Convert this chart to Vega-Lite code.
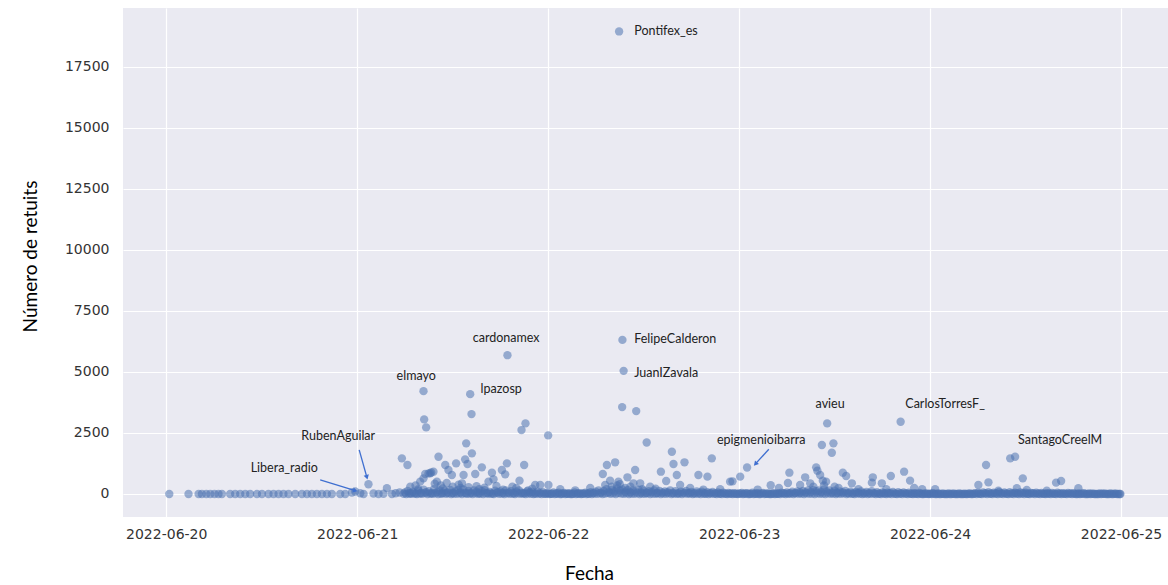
{
"$schema": "https://vega.github.io/schema/vega-lite/v6.json",
"width": 1045, "height": 509,
"autosize": {"type": "none"},
"padding": {"left": 123, "top": 8, "right": 0, "bottom": 68},
"background": "white",
"config": {
 "view": {"fill": "#EAEAF2", "stroke": null},
 "axis": {"domain": false, "ticks": false, "gridColor": "#FFFFFF", "gridWidth": 1.2, "labelFont": "DejaVu Sans", "labelFontSize": 14, "labelColor": "#333333", "titleFont": "Lato", "titleFontSize": 19, "titleFontWeight": "normal", "titleColor": "#000000"}
},
"datasets": {
 "pts": [
  {"t":"2022-06-20T00:23","r":0},{"t":"2022-06-20T02:48","r":0},{"t":"2022-06-20T04:04","r":0},{"t":"2022-06-20T04:29","r":0},{"t":"2022-06-20T05:02","r":0},{"t":"2022-06-20T05:32","r":0},{"t":"2022-06-20T06:04","r":0},{"t":"2022-06-20T06:34","r":0},{"t":"2022-06-20T07:00","r":0},{"t":"2022-06-20T08:02","r":0},{"t":"2022-06-20T08:40","r":0},{"t":"2022-06-20T09:18","r":0},{"t":"2022-06-20T09:56","r":0},{"t":"2022-06-20T10:33","r":0},{"t":"2022-06-20T11:24","r":0},{"t":"2022-06-20T12:02","r":0},{"t":"2022-06-20T12:51","r":0},{"t":"2022-06-20T13:29","r":0},{"t":"2022-06-20T14:07","r":0},{"t":"2022-06-20T14:44","r":0},{"t":"2022-06-20T15:22","r":0},{"t":"2022-06-20T16:13","r":0},{"t":"2022-06-20T17:03","r":0},{"t":"2022-06-20T17:41","r":0},{"t":"2022-06-20T18:18","r":0},{"t":"2022-06-20T18:56","r":0},{"t":"2022-06-20T19:34","r":0},{"t":"2022-06-20T20:12","r":0},{"t":"2022-06-20T20:49","r":0},{"t":"2022-06-20T21:52","r":0},{"t":"2022-06-20T22:30","r":0},{"t":"2022-06-20T23:20","r":60},{"t":"2022-06-20T23:45","r":100},
  {"t":"2022-06-21T00:23","r":30},{"t":"2022-06-21T00:48","r":0},{"t":"2022-06-21T01:25","r":400},{"t":"2022-06-21T02:03","r":20},{"t":"2022-06-21T02:41","r":0},{"t":"2022-06-21T03:18","r":10},{"t":"2022-06-21T03:44","r":240},{"t":"2022-06-21T04:22","r":0},{"t":"2022-06-21T04:50","r":30},{"t":"2022-06-21T05:20","r":60},
  {"t":"2022-06-21T05:37","r":1459},{"t":"2022-06-21T06:19","r":1186},{"t":"2022-06-21T10:13","r":1526},{"t":"2022-06-21T13:42","r":2072},{"t":"2022-06-21T14:25","r":1663},{"t":"2022-06-21T11:04","r":1186},{"t":"2022-06-21T12:26","r":1254},{"t":"2022-06-21T13:34","r":1417},{"t":"2022-06-21T13:52","r":1227},{"t":"2022-06-21T15:40","r":1090},{"t":"2022-06-21T18:49","r":1254},{"t":"2022-06-21T20:59","r":1186},{"t":"2022-06-21T11:28","r":981},{"t":"2022-06-21T11:54","r":777},{"t":"2022-06-21T09:10","r":845},{"t":"2022-06-21T09:35","r":913},{"t":"2022-06-21T13:22","r":777},{"t":"2022-06-21T14:50","r":818},{"t":"2022-06-21T16:56","r":872},{"t":"2022-06-21T18:11","r":981},{"t":"2022-06-21T18:36","r":804},{"t":"2022-06-21T17:08","r":600},{"t":"2022-06-21T20:24","r":545},{"t":"2022-06-21T07:55","r":504},{"t":"2022-06-21T08:20","r":640},{"t":"2022-06-21T10:01","r":504},{"t":"2022-06-21T13:10","r":436},{"t":"2022-06-21T16:30","r":504},{"t":"2022-06-21T22:22","r":368},{"t":"2022-06-21T23:00","r":368},{"t":"2022-06-21T08:33","r":818},{"t":"2022-06-21T08:58","r":845},{"t":"2022-06-21T09:18","r":880},
  {"t":"2022-06-21T18:53","r":5683},{"t":"2022-06-21T08:20","r":4211},{"t":"2022-06-21T14:12","r":4088},{"t":"2022-06-21T14:22","r":3270},{"t":"2022-06-21T08:25","r":3053},{"t":"2022-06-21T08:40","r":2726},{"t":"2022-06-21T21:09","r":2890},{"t":"2022-06-21T20:39","r":2617},{"t":"2022-06-22T00:00","r":2398},{"t":"2022-06-22T00:02","r":368},
  {"t":"2022-06-21T06:40","r":300},{"t":"2022-06-21T07:20","r":350},{"t":"2022-06-21T10:30","r":350},{"t":"2022-06-21T12:00","r":300},{"t":"2022-06-21T14:00","r":280},{"t":"2022-06-21T15:00","r":320},{"t":"2022-06-21T17:30","r":330},{"t":"2022-06-21T19:30","r":300},{"t":"2022-06-21T20:00","r":250},{"t":"2022-06-21T22:00","r":220},{"t":"2022-06-21T09:45","r":420},{"t":"2022-06-21T12:45","r":380},{"t":"2022-06-21T16:00","r":260},{"t":"2022-06-21T07:40","r":200},{"t":"2022-06-21T11:15","r":450},{"t":"2022-06-21T13:00","r":250},{"t":"2022-06-21T18:20","r":180},{"t":"2022-06-21T21:30","r":150},{"t":"2022-06-21T10:45","r":230},{"t":"2022-06-21T15:20","r":200},
  {"t":"2022-06-22T08:55","r":18941},{"t":"2022-06-22T09:20","r":6310},{"t":"2022-06-22T09:29","r":5042},{"t":"2022-06-22T09:18","r":3557},{"t":"2022-06-22T11:04","r":3393},{"t":"2022-06-22T12:23","r":2110},{"t":"2022-06-22T15:33","r":1731},{"t":"2022-06-22T07:23","r":1186},{"t":"2022-06-22T08:25","r":1296},{"t":"2022-06-22T06:52","r":818},{"t":"2022-06-22T10:56","r":981},{"t":"2022-06-22T15:45","r":1227},{"t":"2022-06-22T17:08","r":1296},{"t":"2022-06-22T20:34","r":1459},{"t":"2022-06-22T14:10","r":913},{"t":"2022-06-22T16:10","r":777},{"t":"2022-06-22T18:53","r":777},{"t":"2022-06-22T20:01","r":709},{"t":"2022-06-22T22:52","r":504},{"t":"2022-06-22T14:50","r":531},{"t":"2022-06-22T09:58","r":682},{"t":"2022-06-22T08:50","r":504},{"t":"2022-06-22T07:47","r":545},{"t":"2022-06-22T07:10","r":368},{"t":"2022-06-22T11:34","r":436},{"t":"2022-06-22T10:43","r":436},{"t":"2022-06-22T16:35","r":368},{"t":"2022-06-22T01:31","r":200},{"t":"2022-06-22T03:24","r":150},{"t":"2022-06-22T05:17","r":250},{"t":"2022-06-22T12:49","r":300},{"t":"2022-06-22T17:51","r":250},{"t":"2022-06-22T21:37","r":200},{"t":"2022-06-22T23:10","r":518},{"t":"2022-06-23T00:08","r":709},
  {"t":"2022-06-22T08:00","r":300},{"t":"2022-06-22T09:00","r":400},{"t":"2022-06-22T09:40","r":250},{"t":"2022-06-22T10:20","r":300},{"t":"2022-06-22T11:50","r":200},{"t":"2022-06-22T13:30","r":220},{"t":"2022-06-22T19:30","r":180},{"t":"2022-06-22T08:40","r":350},
  {"t":"2022-06-23T01:00","r":1085},{"t":"2022-06-23T06:19","r":872},{"t":"2022-06-23T06:08","r":450},{"t":"2022-06-23T03:58","r":355},{"t":"2022-06-23T11:04","r":2890},{"t":"2022-06-23T10:24","r":2003},{"t":"2022-06-23T11:51","r":2072},{"t":"2022-06-23T11:39","r":1690},{"t":"2022-06-23T09:41","r":1090},{"t":"2022-06-23T09:50","r":954},{"t":"2022-06-23T08:18","r":682},{"t":"2022-06-23T10:31","r":545},{"t":"2022-06-23T10:56","r":504},{"t":"2022-06-23T10:11","r":777},{"t":"2022-06-23T13:02","r":872},{"t":"2022-06-23T13:27","r":736},{"t":"2022-06-23T14:10","r":436},{"t":"2022-06-23T16:48","r":682},{"t":"2022-06-23T19:04","r":736},{"t":"2022-06-23T20:44","r":913},{"t":"2022-06-23T21:29","r":545},{"t":"2022-06-23T17:56","r":436},{"t":"2022-06-23T16:41","r":463},{"t":"2022-06-23T08:56","r":436},{"t":"2022-06-23T07:40","r":368},{"t":"2022-06-23T20:18","r":2958},
  {"t":"2022-06-23T05:00","r":250},{"t":"2022-06-23T09:20","r":300},{"t":"2022-06-23T10:40","r":350},{"t":"2022-06-23T12:00","r":300},{"t":"2022-06-23T12:30","r":250},{"t":"2022-06-23T15:00","r":200},{"t":"2022-06-23T18:30","r":200},{"t":"2022-06-23T22:00","r":250},{"t":"2022-06-23T02:20","r":180},{"t":"2022-06-23T23:00","r":200},
  {"t":"2022-06-24T07:02","r":1186},{"t":"2022-06-24T10:04","r":1459},{"t":"2022-06-24T10:41","r":1526},{"t":"2022-06-24T11:39","r":640},{"t":"2022-06-24T06:04","r":368},{"t":"2022-06-24T07:20","r":477},{"t":"2022-06-24T15:50","r":463},{"t":"2022-06-24T16:28","r":531},{"t":"2022-06-24T10:54","r":232},{"t":"2022-06-24T12:09","r":164},{"t":"2022-06-24T18:38","r":232},{"t":"2022-06-24T00:38","r":191},{"t":"2022-06-24T14:40","r":136},{"t":"2022-06-24T08:35","r":136},
  {"t":"2022-06-21T06:00","r":60},{"t":"2022-06-21T06:20","r":120},{"t":"2022-06-21T06:40","r":30},
  {"t":"2022-06-21T07:00","r":90},{"t":"2022-06-21T07:20","r":20},{"t":"2022-06-21T07:40","r":150},
  {"t":"2022-06-21T08:00","r":40},{"t":"2022-06-21T08:20","r":180},{"t":"2022-06-21T08:40","r":70},
  {"t":"2022-06-21T09:00","r":110},{"t":"2022-06-21T09:20","r":30},{"t":"2022-06-21T09:40","r":200},
  {"t":"2022-06-21T10:00","r":80},{"t":"2022-06-21T10:20","r":150},{"t":"2022-06-21T10:40","r":20},
  {"t":"2022-06-21T11:00","r":130},{"t":"2022-06-21T11:20","r":60},{"t":"2022-06-21T11:40","r":170},
  {"t":"2022-06-21T12:00","r":40},{"t":"2022-06-21T12:20","r":100},{"t":"2022-06-21T12:40","r":160},
  {"t":"2022-06-21T13:00","r":70},{"t":"2022-06-21T13:20","r":190},{"t":"2022-06-21T13:40","r":30},
  {"t":"2022-06-21T14:00","r":120},{"t":"2022-06-21T14:20","r":50},{"t":"2022-06-21T14:40","r":140},
  {"t":"2022-06-21T15:00","r":90},{"t":"2022-06-21T15:20","r":30},{"t":"2022-06-21T15:40","r":110},
  {"t":"2022-06-21T16:00","r":160},{"t":"2022-06-21T16:20","r":40},{"t":"2022-06-21T16:40","r":80},
  {"t":"2022-06-21T17:00","r":20},{"t":"2022-06-21T17:20","r":130},{"t":"2022-06-21T17:40","r":70},
  {"t":"2022-06-21T18:00","r":100},{"t":"2022-06-21T18:20","r":40},{"t":"2022-06-21T18:40","r":150},
  {"t":"2022-06-21T19:00","r":60},{"t":"2022-06-21T19:20","r":110},{"t":"2022-06-21T19:40","r":30},
  {"t":"2022-06-21T20:00","r":90},{"t":"2022-06-21T20:20","r":140},{"t":"2022-06-21T20:40","r":50},
  {"t":"2022-06-21T21:00","r":30},{"t":"2022-06-21T21:20","r":100},{"t":"2022-06-21T21:40","r":60},
  {"t":"2022-06-21T22:00","r":80},{"t":"2022-06-21T22:20","r":20},{"t":"2022-06-21T22:40","r":90},
  {"t":"2022-06-21T23:00","r":40},{"t":"2022-06-21T23:20","r":70},{"t":"2022-06-21T23:40","r":10},
  {"t":"2022-06-22T00:00","r":30},{"t":"2022-06-22T00:20","r":10},{"t":"2022-06-22T00:40","r":60},
  {"t":"2022-06-22T01:00","r":20},{"t":"2022-06-22T01:20","r":50},{"t":"2022-06-22T01:40","r":0},
  {"t":"2022-06-22T02:00","r":40},{"t":"2022-06-22T02:20","r":10},{"t":"2022-06-22T02:40","r":30},
  {"t":"2022-06-22T03:00","r":0},{"t":"2022-06-22T03:20","r":60},{"t":"2022-06-22T03:40","r":20},
  {"t":"2022-06-22T04:00","r":30},{"t":"2022-06-22T04:20","r":10},{"t":"2022-06-22T04:40","r":50},
  {"t":"2022-06-22T05:00","r":20},{"t":"2022-06-22T05:20","r":70},{"t":"2022-06-22T05:40","r":40},
  {"t":"2022-06-22T06:00","r":90},{"t":"2022-06-22T06:20","r":150},{"t":"2022-06-22T06:40","r":60},
  {"t":"2022-06-22T07:00","r":120},{"t":"2022-06-22T07:20","r":200},{"t":"2022-06-22T07:40","r":80},
  {"t":"2022-06-22T08:00","r":170},{"t":"2022-06-22T08:20","r":110},{"t":"2022-06-22T08:40","r":220},
  {"t":"2022-06-22T09:00","r":140},{"t":"2022-06-22T09:20","r":190},{"t":"2022-06-22T09:40","r":90},
  {"t":"2022-06-22T10:00","r":160},{"t":"2022-06-22T10:20","r":70},{"t":"2022-06-22T10:40","r":130},
  {"t":"2022-06-22T11:00","r":100},{"t":"2022-06-22T11:20","r":180},{"t":"2022-06-22T11:40","r":60},
  {"t":"2022-06-22T12:00","r":130},{"t":"2022-06-22T12:20","r":50},{"t":"2022-06-22T12:40","r":110},
  {"t":"2022-06-22T13:00","r":80},{"t":"2022-06-22T13:20","r":140},{"t":"2022-06-22T13:40","r":40},
  {"t":"2022-06-22T14:00","r":120},{"t":"2022-06-22T14:20","r":60},{"t":"2022-06-22T14:40","r":100},
  {"t":"2022-06-22T15:00","r":70},{"t":"2022-06-22T15:20","r":150},{"t":"2022-06-22T15:40","r":40},
  {"t":"2022-06-22T16:00","r":110},{"t":"2022-06-22T16:20","r":30},{"t":"2022-06-22T16:40","r":90},
  {"t":"2022-06-22T17:00","r":60},{"t":"2022-06-22T17:20","r":120},{"t":"2022-06-22T17:40","r":40},
  {"t":"2022-06-22T18:00","r":80},{"t":"2022-06-22T18:20","r":30},{"t":"2022-06-22T18:40","r":100},
  {"t":"2022-06-22T19:00","r":50},{"t":"2022-06-22T19:20","r":90},{"t":"2022-06-22T19:40","r":20},
  {"t":"2022-06-22T20:00","r":70},{"t":"2022-06-22T20:20","r":40},{"t":"2022-06-22T20:40","r":80},
  {"t":"2022-06-22T21:00","r":30},{"t":"2022-06-22T21:20","r":60},{"t":"2022-06-22T21:40","r":20},
  {"t":"2022-06-22T22:00","r":50},{"t":"2022-06-22T22:20","r":10},{"t":"2022-06-22T22:40","r":40},
  {"t":"2022-06-22T23:00","r":20},{"t":"2022-06-22T23:20","r":30},{"t":"2022-06-22T23:40","r":10},
  {"t":"2022-06-23T00:00","r":20},{"t":"2022-06-23T00:20","r":40},{"t":"2022-06-23T00:40","r":10},
  {"t":"2022-06-23T01:00","r":30},{"t":"2022-06-23T01:20","r":0},{"t":"2022-06-23T01:40","r":50},
  {"t":"2022-06-23T02:00","r":10},{"t":"2022-06-23T02:20","r":30},{"t":"2022-06-23T02:40","r":0},
  {"t":"2022-06-23T03:00","r":40},{"t":"2022-06-23T03:20","r":10},{"t":"2022-06-23T03:40","r":20},
  {"t":"2022-06-23T04:00","r":0},{"t":"2022-06-23T04:20","r":30},{"t":"2022-06-23T04:40","r":10},
  {"t":"2022-06-23T05:00","r":20},{"t":"2022-06-23T05:20","r":50},{"t":"2022-06-23T05:40","r":30},
  {"t":"2022-06-23T06:00","r":60},{"t":"2022-06-23T06:20","r":30},{"t":"2022-06-23T06:40","r":90},
  {"t":"2022-06-23T07:00","r":40},{"t":"2022-06-23T07:20","r":100},{"t":"2022-06-23T07:40","r":60},
  {"t":"2022-06-23T08:00","r":120},{"t":"2022-06-23T08:20","r":70},{"t":"2022-06-23T08:40","r":150},
  {"t":"2022-06-23T09:00","r":90},{"t":"2022-06-23T09:20","r":160},{"t":"2022-06-23T09:40","r":110},
  {"t":"2022-06-23T10:00","r":140},{"t":"2022-06-23T10:20","r":80},{"t":"2022-06-23T10:40","r":190},
  {"t":"2022-06-23T11:00","r":100},{"t":"2022-06-23T11:20","r":150},{"t":"2022-06-23T11:40","r":60},
  {"t":"2022-06-23T12:00","r":130},{"t":"2022-06-23T12:20","r":50},{"t":"2022-06-23T12:40","r":100},
  {"t":"2022-06-23T13:00","r":70},{"t":"2022-06-23T13:20","r":120},{"t":"2022-06-23T13:40","r":40},
  {"t":"2022-06-23T14:00","r":90},{"t":"2022-06-23T14:20","r":30},{"t":"2022-06-23T14:40","r":80},
  {"t":"2022-06-23T15:00","r":50},{"t":"2022-06-23T15:20","r":100},{"t":"2022-06-23T15:40","r":30},
  {"t":"2022-06-23T16:00","r":80},{"t":"2022-06-23T16:20","r":40},{"t":"2022-06-23T16:40","r":110},
  {"t":"2022-06-23T17:00","r":30},{"t":"2022-06-23T17:20","r":70},{"t":"2022-06-23T17:40","r":20},
  {"t":"2022-06-23T18:00","r":60},{"t":"2022-06-23T18:20","r":20},{"t":"2022-06-23T18:40","r":50},
  {"t":"2022-06-23T19:00","r":40},{"t":"2022-06-23T19:20","r":80},{"t":"2022-06-23T19:40","r":10},
  {"t":"2022-06-23T20:00","r":70},{"t":"2022-06-23T20:20","r":30},{"t":"2022-06-23T20:40","r":60},
  {"t":"2022-06-23T21:00","r":20},{"t":"2022-06-23T21:20","r":50},{"t":"2022-06-23T21:40","r":10},
  {"t":"2022-06-23T22:00","r":30},{"t":"2022-06-23T22:20","r":10},{"t":"2022-06-23T22:40","r":40},
  {"t":"2022-06-23T23:00","r":0},{"t":"2022-06-23T23:20","r":20},{"t":"2022-06-23T23:40","r":10},
  {"t":"2022-06-24T00:00","r":10},{"t":"2022-06-24T00:20","r":30},{"t":"2022-06-24T00:40","r":0},
  {"t":"2022-06-24T01:00","r":20},{"t":"2022-06-24T01:20","r":0},{"t":"2022-06-24T01:40","r":10},
  {"t":"2022-06-24T02:00","r":0},{"t":"2022-06-24T02:20","r":20},{"t":"2022-06-24T02:40","r":0},
  {"t":"2022-06-24T03:00","r":10},{"t":"2022-06-24T03:20","r":0},{"t":"2022-06-24T03:40","r":20},
  {"t":"2022-06-24T04:00","r":0},{"t":"2022-06-24T04:20","r":10},{"t":"2022-06-24T04:40","r":0},
  {"t":"2022-06-24T05:00","r":20},{"t":"2022-06-24T05:20","r":0},{"t":"2022-06-24T05:40","r":30},
  {"t":"2022-06-24T06:00","r":40},{"t":"2022-06-24T06:20","r":10},{"t":"2022-06-24T06:40","r":60},
  {"t":"2022-06-24T07:00","r":30},{"t":"2022-06-24T07:20","r":70},{"t":"2022-06-24T07:40","r":20},
  {"t":"2022-06-24T08:00","r":50},{"t":"2022-06-24T08:20","r":20},{"t":"2022-06-24T08:40","r":80},
  {"t":"2022-06-24T09:00","r":30},{"t":"2022-06-24T09:20","r":60},{"t":"2022-06-24T09:40","r":10},
  {"t":"2022-06-24T10:00","r":70},{"t":"2022-06-24T10:20","r":30},{"t":"2022-06-24T10:40","r":50},
  {"t":"2022-06-24T11:00","r":20},{"t":"2022-06-24T11:20","r":60},{"t":"2022-06-24T11:40","r":40},
  {"t":"2022-06-24T12:00","r":50},{"t":"2022-06-24T12:20","r":10},{"t":"2022-06-24T12:40","r":40},
  {"t":"2022-06-24T13:00","r":30},{"t":"2022-06-24T13:20","r":50},{"t":"2022-06-24T13:40","r":20},
  {"t":"2022-06-24T14:00","r":40},{"t":"2022-06-24T14:20","r":10},{"t":"2022-06-24T14:40","r":30},
  {"t":"2022-06-24T15:00","r":20},{"t":"2022-06-24T15:20","r":40},{"t":"2022-06-24T15:40","r":10},
  {"t":"2022-06-24T16:00","r":50},{"t":"2022-06-24T16:20","r":20},{"t":"2022-06-24T16:40","r":30},
  {"t":"2022-06-24T17:00","r":10},{"t":"2022-06-24T17:20","r":40},{"t":"2022-06-24T17:40","r":20},
  {"t":"2022-06-24T18:00","r":30},{"t":"2022-06-24T18:20","r":0},{"t":"2022-06-24T18:40","r":20},
  {"t":"2022-06-24T19:00","r":10},{"t":"2022-06-24T19:20","r":30},{"t":"2022-06-24T19:40","r":0},
  {"t":"2022-06-24T20:00","r":20},{"t":"2022-06-24T20:20","r":10},{"t":"2022-06-24T20:40","r":0},
  {"t":"2022-06-24T21:00","r":0},{"t":"2022-06-24T21:20","r":20},{"t":"2022-06-24T21:40","r":10},
  {"t":"2022-06-24T22:00","r":10},{"t":"2022-06-24T22:20","r":0},{"t":"2022-06-24T22:40","r":20},
  {"t":"2022-06-24T23:00","r":0},{"t":"2022-06-24T23:20","r":10},{"t":"2022-06-24T23:40","r":0},{"t":"2022-06-24T23:55","r":0},
  {"t":"2022-06-21T05:50","r":10},{"t":"2022-06-21T06:10","r":0},{"t":"2022-06-21T06:30","r":20},{"t":"2022-06-21T06:50","r":10},
  {"t":"2022-06-21T07:10","r":30},{"t":"2022-06-21T07:30","r":0},{"t":"2022-06-21T07:50","r":20},
  {"t":"2022-06-21T08:10","r":10},{"t":"2022-06-21T08:30","r":40},{"t":"2022-06-21T08:50","r":0},
  {"t":"2022-06-21T09:10","r":20},{"t":"2022-06-21T09:30","r":10},{"t":"2022-06-21T09:50","r":30},
  {"t":"2022-06-21T10:10","r":0},{"t":"2022-06-21T10:30","r":20},{"t":"2022-06-21T10:50","r":40},
  {"t":"2022-06-21T11:10","r":10},{"t":"2022-06-21T11:30","r":30},{"t":"2022-06-21T11:50","r":0},
  {"t":"2022-06-21T12:10","r":20},{"t":"2022-06-21T12:30","r":10},{"t":"2022-06-21T12:50","r":30},
  {"t":"2022-06-21T13:10","r":0},{"t":"2022-06-21T13:30","r":40},{"t":"2022-06-21T13:50","r":10},
  {"t":"2022-06-21T14:10","r":20},{"t":"2022-06-21T14:30","r":0},{"t":"2022-06-21T14:50","r":30},
  {"t":"2022-06-21T15:10","r":10},{"t":"2022-06-21T15:30","r":20},{"t":"2022-06-21T15:50","r":0},
  {"t":"2022-06-21T16:10","r":30},{"t":"2022-06-21T16:30","r":10},{"t":"2022-06-21T16:50","r":20},
  {"t":"2022-06-21T17:10","r":0},{"t":"2022-06-21T17:30","r":40},{"t":"2022-06-21T17:50","r":10},
  {"t":"2022-06-21T18:10","r":20},{"t":"2022-06-21T18:30","r":0},{"t":"2022-06-21T18:50","r":30},
  {"t":"2022-06-21T19:10","r":10},{"t":"2022-06-21T19:30","r":20},{"t":"2022-06-21T19:50","r":0},
  {"t":"2022-06-21T20:10","r":30},{"t":"2022-06-21T20:30","r":10},{"t":"2022-06-21T20:50","r":20},
  {"t":"2022-06-21T21:10","r":0},{"t":"2022-06-21T21:30","r":20},{"t":"2022-06-21T21:50","r":10},
  {"t":"2022-06-21T22:10","r":0},{"t":"2022-06-21T22:30","r":20},{"t":"2022-06-21T22:50","r":10},
  {"t":"2022-06-21T23:10","r":0},{"t":"2022-06-21T23:30","r":10},{"t":"2022-06-21T23:50","r":20},
  {"t":"2022-06-22T00:10","r":0},{"t":"2022-06-22T00:30","r":10},{"t":"2022-06-22T00:50","r":0},
  {"t":"2022-06-22T01:10","r":10},{"t":"2022-06-22T01:30","r":0},{"t":"2022-06-22T01:50","r":20},
  {"t":"2022-06-22T02:10","r":0},{"t":"2022-06-22T02:30","r":10},{"t":"2022-06-22T02:50","r":0},
  {"t":"2022-06-22T03:10","r":10},{"t":"2022-06-22T03:30","r":0},{"t":"2022-06-22T03:50","r":10},
  {"t":"2022-06-22T04:10","r":0},{"t":"2022-06-22T04:30","r":20},{"t":"2022-06-22T04:50","r":0},
  {"t":"2022-06-22T05:10","r":10},{"t":"2022-06-22T05:30","r":0},{"t":"2022-06-22T05:50","r":20},
  {"t":"2022-06-22T06:10","r":10},{"t":"2022-06-22T06:30","r":30},{"t":"2022-06-22T06:50","r":0},
  {"t":"2022-06-22T07:10","r":20},{"t":"2022-06-22T07:30","r":40},{"t":"2022-06-22T07:50","r":10},
  {"t":"2022-06-22T08:10","r":30},{"t":"2022-06-22T08:30","r":0},{"t":"2022-06-22T08:50","r":40},
  {"t":"2022-06-22T09:10","r":20},{"t":"2022-06-22T09:30","r":10},{"t":"2022-06-22T09:50","r":30},
  {"t":"2022-06-22T10:10","r":0},{"t":"2022-06-22T10:30","r":20},{"t":"2022-06-22T10:50","r":10},
  {"t":"2022-06-22T11:10","r":30},{"t":"2022-06-22T11:30","r":0},{"t":"2022-06-22T11:50","r":20},
  {"t":"2022-06-22T12:10","r":10},{"t":"2022-06-22T12:30","r":30},{"t":"2022-06-22T12:50","r":0},
  {"t":"2022-06-22T13:10","r":20},{"t":"2022-06-22T13:30","r":10},{"t":"2022-06-22T13:50","r":30},
  {"t":"2022-06-22T14:10","r":0},{"t":"2022-06-22T14:30","r":20},{"t":"2022-06-22T14:50","r":10},
  {"t":"2022-06-22T15:10","r":30},{"t":"2022-06-22T15:30","r":0},{"t":"2022-06-22T15:50","r":20},
  {"t":"2022-06-22T16:10","r":10},{"t":"2022-06-22T16:30","r":20},{"t":"2022-06-22T16:50","r":0},
  {"t":"2022-06-22T17:10","r":30},{"t":"2022-06-22T17:30","r":10},{"t":"2022-06-22T17:50","r":20},
  {"t":"2022-06-22T18:10","r":0},{"t":"2022-06-22T18:30","r":20},{"t":"2022-06-22T18:50","r":10},
  {"t":"2022-06-22T19:10","r":0},{"t":"2022-06-22T19:30","r":20},{"t":"2022-06-22T19:50","r":10},
  {"t":"2022-06-22T20:10","r":0},{"t":"2022-06-22T20:30","r":20},{"t":"2022-06-22T20:50","r":10},
  {"t":"2022-06-22T21:10","r":0},{"t":"2022-06-22T21:30","r":10},{"t":"2022-06-22T21:50","r":0},
  {"t":"2022-06-22T22:10","r":20},{"t":"2022-06-22T22:30","r":0},{"t":"2022-06-22T22:50","r":10},
  {"t":"2022-06-22T23:10","r":0},{"t":"2022-06-22T23:30","r":10},{"t":"2022-06-22T23:50","r":0},
  {"t":"2022-06-23T00:10","r":10},{"t":"2022-06-23T00:30","r":0},{"t":"2022-06-23T00:50","r":20},
  {"t":"2022-06-23T01:10","r":0},{"t":"2022-06-23T01:30","r":10},{"t":"2022-06-23T01:50","r":0},
  {"t":"2022-06-23T02:10","r":10},{"t":"2022-06-23T02:30","r":0},{"t":"2022-06-23T02:50","r":20},
  {"t":"2022-06-23T03:10","r":0},{"t":"2022-06-23T03:30","r":10},{"t":"2022-06-23T03:50","r":0},
  {"t":"2022-06-23T04:10","r":10},{"t":"2022-06-23T04:30","r":0},{"t":"2022-06-23T04:50","r":10},
  {"t":"2022-06-23T05:10","r":0},{"t":"2022-06-23T05:30","r":20},{"t":"2022-06-23T05:50","r":0},
  {"t":"2022-06-23T06:10","r":10},{"t":"2022-06-23T06:30","r":20},{"t":"2022-06-23T06:50","r":0},
  {"t":"2022-06-23T07:10","r":30},{"t":"2022-06-23T07:30","r":10},{"t":"2022-06-23T07:50","r":20},
  {"t":"2022-06-23T08:10","r":0},{"t":"2022-06-23T08:30","r":30},{"t":"2022-06-23T08:50","r":10},
  {"t":"2022-06-23T09:10","r":20},{"t":"2022-06-23T09:30","r":0},{"t":"2022-06-23T09:50","r":30},
  {"t":"2022-06-23T10:10","r":10},{"t":"2022-06-23T10:30","r":20},{"t":"2022-06-23T10:50","r":0},
  {"t":"2022-06-23T11:10","r":30},{"t":"2022-06-23T11:30","r":10},{"t":"2022-06-23T11:50","r":20},
  {"t":"2022-06-23T12:10","r":0},{"t":"2022-06-23T12:30","r":20},{"t":"2022-06-23T12:50","r":10},
  {"t":"2022-06-23T13:10","r":30},{"t":"2022-06-23T13:30","r":0},{"t":"2022-06-23T13:50","r":20},
  {"t":"2022-06-23T14:10","r":10},{"t":"2022-06-23T14:30","r":0},{"t":"2022-06-23T14:50","r":20},
  {"t":"2022-06-23T15:10","r":10},{"t":"2022-06-23T15:30","r":0},{"t":"2022-06-23T15:50","r":20},
  {"t":"2022-06-23T16:10","r":0},{"t":"2022-06-23T16:30","r":10},{"t":"2022-06-23T16:50","r":20},
  {"t":"2022-06-23T17:10","r":0},{"t":"2022-06-23T17:30","r":10},{"t":"2022-06-23T17:50","r":0},
  {"t":"2022-06-23T18:10","r":20},{"t":"2022-06-23T18:30","r":0},{"t":"2022-06-23T18:50","r":10},
  {"t":"2022-06-23T19:10","r":0},{"t":"2022-06-23T19:30","r":20},{"t":"2022-06-23T19:50","r":0},
  {"t":"2022-06-23T20:10","r":10},{"t":"2022-06-23T20:30","r":0},{"t":"2022-06-23T20:50","r":20},
  {"t":"2022-06-23T21:10","r":0},{"t":"2022-06-23T21:30","r":10},{"t":"2022-06-23T21:50","r":0},
  {"t":"2022-06-23T22:10","r":10},{"t":"2022-06-23T22:30","r":0},{"t":"2022-06-23T22:50","r":10},
  {"t":"2022-06-23T23:10","r":0},{"t":"2022-06-23T23:30","r":10},{"t":"2022-06-23T23:50","r":0},
  {"t":"2022-06-24T00:10","r":0},{"t":"2022-06-24T00:30","r":10},{"t":"2022-06-24T00:50","r":0},
  {"t":"2022-06-24T01:10","r":0},{"t":"2022-06-24T01:30","r":10},{"t":"2022-06-24T01:50","r":0},
  {"t":"2022-06-24T02:10","r":0},{"t":"2022-06-24T02:30","r":0},{"t":"2022-06-24T02:50","r":10},
  {"t":"2022-06-24T03:10","r":0},{"t":"2022-06-24T03:30","r":0},{"t":"2022-06-24T03:50","r":0},
  {"t":"2022-06-24T04:10","r":0},{"t":"2022-06-24T04:30","r":0},{"t":"2022-06-24T04:50","r":10},
  {"t":"2022-06-24T05:10","r":0},{"t":"2022-06-24T05:30","r":10},{"t":"2022-06-24T05:50","r":0},
  {"t":"2022-06-24T06:10","r":10},{"t":"2022-06-24T06:30","r":0},{"t":"2022-06-24T06:50","r":20},
  {"t":"2022-06-24T07:10","r":0},{"t":"2022-06-24T07:30","r":10},{"t":"2022-06-24T07:50","r":0},
  {"t":"2022-06-24T08:10","r":20},{"t":"2022-06-24T08:30","r":0},{"t":"2022-06-24T08:50","r":10},
  {"t":"2022-06-24T09:10","r":0},{"t":"2022-06-24T09:30","r":20},{"t":"2022-06-24T09:50","r":0},
  {"t":"2022-06-24T10:10","r":10},{"t":"2022-06-24T10:30","r":0},{"t":"2022-06-24T10:50","r":20},
  {"t":"2022-06-24T11:10","r":0},{"t":"2022-06-24T11:30","r":10},{"t":"2022-06-24T11:50","r":0},
  {"t":"2022-06-24T12:10","r":10},{"t":"2022-06-24T12:30","r":0},{"t":"2022-06-24T12:50","r":20},
  {"t":"2022-06-24T13:10","r":0},{"t":"2022-06-24T13:30","r":10},{"t":"2022-06-24T13:50","r":0},
  {"t":"2022-06-24T14:10","r":10},{"t":"2022-06-24T14:30","r":0},{"t":"2022-06-24T14:50","r":10},
  {"t":"2022-06-24T15:10","r":0},{"t":"2022-06-24T15:30","r":10},{"t":"2022-06-24T15:50","r":0},
  {"t":"2022-06-24T16:10","r":10},{"t":"2022-06-24T16:30","r":0},{"t":"2022-06-24T16:50","r":10},
  {"t":"2022-06-24T17:10","r":0},{"t":"2022-06-24T17:30","r":10},{"t":"2022-06-24T17:50","r":0},
  {"t":"2022-06-24T18:10","r":10},{"t":"2022-06-24T18:30","r":0},{"t":"2022-06-24T18:50","r":0},
  {"t":"2022-06-24T19:10","r":10},{"t":"2022-06-24T19:30","r":0},{"t":"2022-06-24T19:50","r":0},
  {"t":"2022-06-24T20:10","r":0},{"t":"2022-06-24T20:30","r":10},{"t":"2022-06-24T20:50","r":0},
  {"t":"2022-06-24T21:10","r":0},{"t":"2022-06-24T21:30","r":0},{"t":"2022-06-24T21:50","r":10},
  {"t":"2022-06-24T22:10","r":0},{"t":"2022-06-24T22:30","r":0},{"t":"2022-06-24T22:50","r":0},
  {"t":"2022-06-24T23:10","r":10},{"t":"2022-06-24T23:30","r":0},{"t":"2022-06-24T23:50","r":0}
 ],
 "labL": [
  {"name":"Pontifex_es","t":"2022-06-22T10:49","r":18975},
  {"name":"FelipeCalderon","t":"2022-06-22T10:49","r":6352},
  {"name":"JuanIZavala","t":"2022-06-22T10:49","r":4959}
 ],
 "labC": [
  {"name":"cardonamex","t":"2022-06-21T18:43","r":6393},
  {"name":"elmayo","t":"2022-06-21T07:25","r":4836},
  {"name":"lpazosp","t":"2022-06-21T18:06","r":4303},
  {"name":"RubenAguilar","t":"2022-06-20T21:37","r":2377},
  {"name":"Libera_radio","t":"2022-06-20T14:50","r":1066},
  {"name":"epigmenioibarra","t":"2022-06-23T02:46","r":2213},
  {"name":"avieu","t":"2022-06-23T11:26","r":3689},
  {"name":"CarlosTorresF_","t":"2022-06-24T01:53","r":3689},
  {"name":"SantagoCreelM","t":"2022-06-24T16:20","r":2213}
 ],
 "arrows": [
  {"name":"Libera_radio","t":"2022-06-20T19:21","r":574},
  {"name":"Libera_radio","t":"2022-06-20T23:45","r":135},
  {"name":"RubenAguilar","t":"2022-06-21T00:15","r":1803},
  {"name":"RubenAguilar","t":"2022-06-21T01:13","r":684},
  {"name":"epigmenioibarra","t":"2022-06-23T03:44","r":1832},
  {"name":"epigmenioibarra","t":"2022-06-23T02:03","r":1230}
 ],
 "heads": [
  {"name":"Libera_radio","t":"2022-06-20T23:45","r":135},
  {"name":"RubenAguilar","t":"2022-06-21T01:13","r":684},
  {"name":"epigmenioibarra","t":"2022-06-23T02:03","r":1230}
 ]
},
"encoding": {
 "x": {"field": "t", "type": "temporal",
  "scale": {"domain": [{"year":2022,"month":6,"date":19,"hours":18,"minutes":34},{"year":2022,"month":6,"date":25,"hours":5,"minutes":54}]},
  "axis": {"title": "Fecha", "format": "%Y-%m-%d", "tickCount": {"interval": "day", "step": 1}, "labelPadding": 10, "labelFlush": false, "titleX": 466, "titleY": 56, "titleAlign": "center", "titleBaseline": "middle", "titleAnchor": null}},
 "y": {"field": "r", "type": "quantitative",
  "scale": {"domain": [-943, 19900], "nice": false, "zero": false},
  "axis": {"title": "Número de retuits", "values": [0,2500,5000,7500,10000,12500,15000,17500], "format": "d", "labelPadding": 14, "titleX": -93, "titleY": 248, "titleAlign": "center", "titleBaseline": "middle", "titleAngle": -90}}
},
"layer": [
 {"data": {"name": "pts"}, "mark": {"type": "circle", "size": 70, "opacity": 0.55, "color": "#4C72B0", "strokeWidth": 0}},
 {"data": {"name": "arrows"}, "mark": {"type": "line", "color": "#3F6FD0", "strokeWidth": 1.3}, "encoding": {"detail": {"field": "name"}}},
 {"data": {"name": "heads"}, "transform": [{"filter": "datum.name == 'Libera_radio'"}], "mark": {"type": "point", "shape": "triangle-up", "filled": true, "size": 28, "angle": 107, "color": "#3F6FD0", "opacity": 1}},
 {"data": {"name": "heads"}, "transform": [{"filter": "datum.name == 'RubenAguilar'"}], "mark": {"type": "point", "shape": "triangle-up", "filled": true, "size": 28, "angle": 164, "color": "#3F6FD0", "opacity": 1}},
 {"data": {"name": "heads"}, "transform": [{"filter": "datum.name == 'epigmenioibarra'"}], "mark": {"type": "point", "shape": "triangle-up", "filled": true, "size": 28, "angle": 222, "color": "#3F6FD0", "opacity": 1}},
 {"data": {"name": "labL"}, "mark": {"type": "text", "align": "left", "baseline": "middle", "font": "Lato", "fontSize": 12.5, "color": "#222222"}, "encoding": {"text": {"field": "name"}}},
 {"data": {"name": "labC"}, "mark": {"type": "text", "align": "center", "baseline": "middle", "font": "Lato", "fontSize": 12.5, "color": "#222222"}, "encoding": {"text": {"field": "name"}}}
]
}
